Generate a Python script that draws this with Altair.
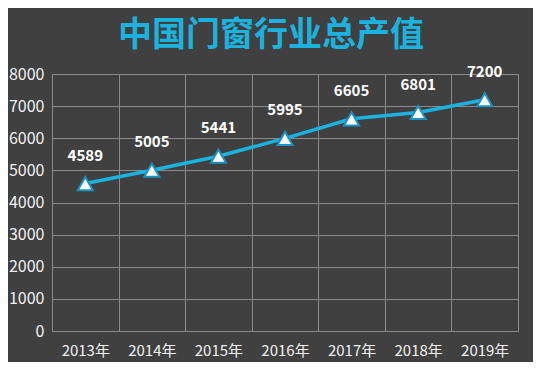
import altair as alt
import pandas as pd

years = ["2013年", "2014年", "2015年", "2016年", "2017年", "2018年", "2019年"]
values = [4589, 5005, 5441, 5995, 6605, 6801, 7200]
title_text = "中国门窗行业总产值"

df = pd.DataFrame({"year": years, "value": values})

FONT = "Noto Sans CJK SC"
BLUE = "#1AB3DF"

x_enc = alt.X(
    "year:N",
    sort=years,
    scale=alt.Scale(paddingInner=0, paddingOuter=0),
    axis=alt.Axis(
        title=None, tickBand="extent", grid=True, gridColor="#8a8a8a",
        gridWidth=1, ticks=False, domain=False, labelAngle=0, labelFontSize=15,
        labelColor="#f0f0f0", labelFont=FONT, labelPadding=12,
    ),
)
y_enc = alt.Y(
    "value:Q",
    scale=alt.Scale(domain=[0, 8000], nice=False),
    axis=alt.Axis(
        title=None, values=list(range(0, 8001, 1000)), format="d", grid=True,
        gridColor="#8a8a8a", gridWidth=1, ticks=False, domain=False, labelFontSize=16,
        labelColor="#f0f0f0", labelFont=FONT, labelPadding=8,
    ),
)

base = alt.Chart(df).encode(x=x_enc, y=y_enc)

line = base.mark_line(color=BLUE, strokeWidth=3.5)
pts = base.mark_point(shape="triangle-up", size=230, filled=True, fill="white",
                      stroke="#1A92C4", strokeWidth=2, opacity=1)
labels = base.mark_text(dy=-28, fontSize=15, fontWeight="bold", color="white",
                        font=FONT).encode(text="value:Q")

chart = (line + pts + labels).properties(
    width=466,
    height=257,
    title=alt.TitleParams(title_text, fontSize=34, font=FONT, fontWeight="bold",
                          color=BLUE, anchor="middle", offset=12, dx=-14),
    padding={"left": 44, "top": 66, "right": 15, "bottom": 31},
    autosize=alt.AutoSizeParams(type="none"),
).configure(background="#404040").configure_view(stroke="#8a8a8a", strokeWidth=1)

chart.save("out.html", embed_options={"renderer": "svg", "actions": False})
